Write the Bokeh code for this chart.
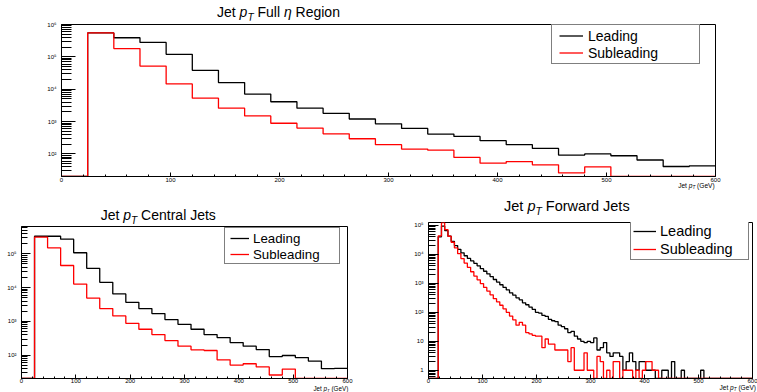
import numpy as np
from bokeh.plotting import figure
from bokeh.models import FixedTicker, Legend, LegendItem, Range1d, Div
from bokeh.layouts import column, row
from bokeh.embed import file_html
from bokeh.resources import INLINE

FONT = "Liberation Sans"

# ---------------- data ----------------
# 24 GeV bins, 0..600 GeV
edges_coarse = list(range(0, 601, 24))
lead_full = [0, 5.5e5, 3.9e5, 2.8e5, 1.2e5, 3.85e4, 1.6e4, 7.1e3, 4.1e3, 2.6e3, 1.8e3, 1.2e3, 850,
             615, 411, 348, 257, 193, 148, 92, 100, 88, 65, 41, 43]
sub_full = [0, 5.5e5, 1.8e5, 5.2e4, 1.46e4, 5.3e3, 2.6e3, 1.5e3, 890, 630, 420, 295, 193,
            141, 131, 78, 52, 58, 46, 26, 40, 0, 0, 0, 0]
lead_cen = [0, 3.3e5, 3.3e5, 2.7e5, 1.07e5, 3.7e4, 1.43e4, 6.5e3, 3.67e3, 2.4e3, 1.7e3, 1.13e3, 822,
            586, 408, 333, 237, 185, 147, 91, 98, 85, 67, 40, 41]
sub_cen = [0, 3.1e5, 1.5e5, 4.5e4, 1.27e4, 4.9e3, 2.4e3, 1.45e3, 880, 586, 408, 272, 185,
           144, 138, 73, 51, 56, 45, 26, 39, 0, 0, 0, 0]

# 6 GeV bins, 0..600 GeV
edges_fwd = list(range(0, 601, 6))
lead_fwd = [0, 0, 0, 40000, 93000, 66000, 42000, 28000, 20000, 14800,
            11200, 8900, 7200, 5900, 4900, 4000, 3200, 2600, 2100, 1700,
            1350, 1100, 890, 720, 590, 470, 390, 316, 270, 212,
            182, 151, 126, 100, 94, 78, 72, 57, 51, 48,
            36, 32, 27, 20, 22, 15, 12, 10, 9, 10,
            9, 13, 5, 6, 9, 4, 3, 4, 4, 3,
            1, 2, 4, 2, 1, 2, 2, 1, 1, 1,
            0, 0, 1, 1, 0, 2, 0, 0, 1, 0,
            0, 0, 0, 0, 1, 0, 0, 0, 0, 0,
            0, 0, 0, 0, 0, 0, 0, 0, 0, 0]
sub_fwd = [0, 0, 0, 43000, 124000, 71000, 42000, 26000, 16600, 10500,
           7100, 5000, 3550, 2500, 1780, 1320, 980, 720, 540, 400,
           295, 230, 175, 132, 100, 74, 55, 36, 45, 36,
           20, 18, 16, 15, 15, 6, 12, 8, 8, 5,
           5, 5, 5, 2, 6, 1, 1, 1, 4, 1,
           1, 0, 3, 2, 0, 1, 0, 2, 2, 0,
           1, 1, 1, 0, 1, 0, 1, 2, 2, 1,
           1, 0, 0, 0, 0, 0, 0, 0, 0, 0,
           0, 0, 0, 0, 0, 0, 0, 0, 0, 0,
           0, 0, 0, 0, 0, 0, 0, 0, 0, 0]

x_major = [0, 100, 200, 300, 400, 500, 600]
x_labels = ["0", "100", "200", "300", "400", "500", "600"]
series_names = ["Leading", "Subleading"]
panel_titles = ["Full <i>η</i> Region", "Central Jets", "Forward Jets"]

SUP = {1: "", 2: "²", 3: "³", 4: "⁴", 5: "⁵", 6: "⁶"}


def text_div(width, height, html, size, baseline, left=None, right=None):
    top = baseline - 0.8465 * size
    pos = f"left:{left}px;" if left is not None else f"right:{right}px;"
    inner = (f'<div style="position:relative;width:{width}px;height:{height}px;'
             f'overflow:visible;">'
             f'<span style="position:absolute;{pos}top:{top:.2f}px;'
             f'font-family:\'{FONT}\';font-size:{size}px;line-height:{size}px;'
             f'color:#000;white-space:nowrap;">{html}</span></div>')
    return Div(text=inner, width=width, height=height, margin=0,
               styles={"overflow": "visible"})


def ptitle(rest, size):
    sub = round(size * 0.72, 1)
    return (f'Jet <i>p</i><sub style="font-size:{sub}px;vertical-align:-{size*0.25:.1f}px;'
            f'line-height:0;"><i>T</i></sub> {rest}')


def xtitle(size):
    sub = round(size * 0.7, 1)
    return (f'Jet <i>p</i><sub style="font-size:{sub}px;vertical-align:-{size*0.15:.1f}px;'
            f'line-height:0;"><i>T</i></sub> (GeV)')


def panel(width, height, bl, br, bt, bb, yr, ypows, ymaj_in, ymin_in, edges, lead, sub, leg,
          xstand=1):
    p = figure(width=width, height=height, x_range=Range1d(0, 600), y_range=Range1d(*yr),
               y_axis_type="log", output_backend="svg", toolbar_location=None, title=None,
               min_border_left=bl, min_border_right=br, min_border_top=bt, min_border_bottom=bb)
    p.background_fill_color = "white"
    p.border_fill_color = "white"
    p.outline_line_color = "black"
    p.outline_line_width = 1
    p.outline_line_alpha = 1
    p.xgrid.visible = False
    p.ygrid.visible = False

    yt = [10.0 ** k for k in ypows]
    ymin_ticks = [k * 10.0 ** n for n in range(-1, 7) for k in range(2, 10)
                  if yr[0] <= k * 10.0 ** n <= yr[1]]
    p.yaxis.ticker = FixedTicker(ticks=yt, minor_ticks=ymin_ticks)
    p.yaxis.major_label_overrides = {
        10.0 ** k: ("1" if k == 0 else "10" if k == 1 else "10" + SUP[k]) for k in ypows}
    p.xaxis.ticker = FixedTicker(ticks=x_major, minor_ticks=list(range(20, 600, 20)))
    p.xaxis.major_label_overrides = {float(v): s for v, s in zip(x_major, x_labels)}
    for ax in (p.xaxis, p.yaxis):
        ax.axis_line_color = "black"
        ax.major_tick_line_color = "black"
        ax.minor_tick_line_color = "black"
        ax.major_tick_out = 0
        ax.minor_tick_out = 0
        ax.major_label_text_font = FONT
        ax.major_label_text_font_size = "6px"
        ax.major_label_text_color = "black"
    p.yaxis.major_tick_in = ymaj_in
    p.yaxis.minor_tick_in = ymin_in
    p.yaxis.major_label_standoff = 5
    p.xaxis.major_tick_in = 4
    p.xaxis.minor_tick_in = 2
    p.xaxis.major_label_standoff = xstand

    ylo = yr[0]

    def clamp(v):
        arr = np.asarray(v, dtype=float)
        arr = np.where(arr > 0, arr, ylo)
        return list(arr) + [arr[-1]]

    r1 = p.step(edges, clamp(lead), mode="after", line_color="#000000", line_width=1.3)
    r2 = p.step(edges, clamp(sub), mode="after", line_color="#ff0000", line_width=1.3)

    vx, vy, pad, ih, gw, so, lw, fs = leg
    legend = Legend(items=[LegendItem(label=series_names[0], renderers=[r1]),
                           LegendItem(label=series_names[1], renderers=[r2])],
                    location=(vx, vy), padding=pad, spacing=0, margin=0,
                    label_height=ih, glyph_height=ih, glyph_width=gw, label_standoff=so,
                    label_width=lw, label_text_font=FONT, label_text_font_size=fs,
                    label_text_color="black",
                    border_line_color="black", border_line_width=1,
                    background_fill_color="white", background_fill_alpha=1)
    p.add_layout(legend)
    return p


def pad(l, r, t, b):
    return dict(left=l, right=r, top=t, bottom=b)


# ---------- top: full eta ----------
top_head = text_div(757, 20, ptitle(panel_titles[0], 14), 14, 16.7, left=217)
top = panel(757, 164, 61, 42, 4, 8, (20.1, 1.0e6), [2, 3, 4, 5, 6], 14, 10,
            edges_coarse, lead_full, sub_full,
            (490, 112, pad(7, 2, 2, 2), 17, 24, 5, 109, "14px"))
top_foot = text_div(757, 12, xtitle(6.6), 6.6, 5, right=42.3)

# ---------- bottom-left: central ----------
cen_head = text_div(378, 29, ptitle(panel_titles[1], 14), 14, 24, left=100.7)
cen = panel(378, 160, 21, 31, 1, 7, (20.5, 6.4e5), [2, 3, 4, 5], 9, 6,
            edges_coarse, lead_cen, sub_cen,
            (203, 114, pad(5, 1, 2, 1), 16, 19, 4, 85, "13.3px"), xstand=0)
cen_foot = text_div(378, 7, xtitle(6.3), 6.3, 1.0, right=29.7)

# ---------- bottom-right: forward ----------
fwd_head = text_div(379, 23, ptitle(panel_titles[2], 14.5), 14.5, 15, left=126)
fwd = panel(379, 166, 50, 5, 3, 7, (0.52, 1.25e5), [0, 1, 2, 3, 4, 5], 10, 7,
            edges_fwd, lead_fwd, sub_fwd,
            (202, 118, pad(2, 1, 1, 1), 18, 23, 4, 87, "14.5px"), xstand=0)
fwd_foot = text_div(379, 7, xtitle(6.6), 6.6, 1.0, right=1)

layout = column(
    column(top_head, top, top_foot, spacing=0),
    row(column(cen_head, cen, cen_foot, spacing=0),
        column(fwd_head, fwd, fwd_foot, spacing=0), spacing=0),
    spacing=0)
open("out.html", "w").write(file_html(layout, INLINE))
